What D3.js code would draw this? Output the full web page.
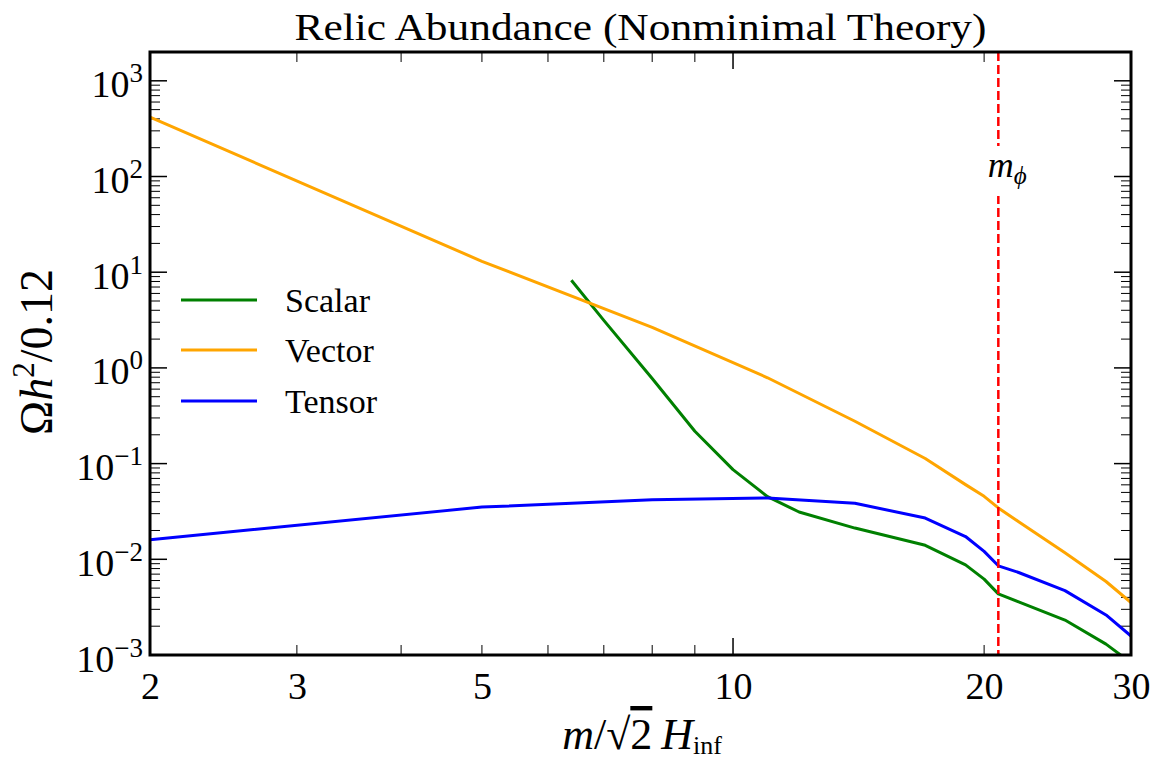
<!DOCTYPE html>
<html><head><meta charset="utf-8">
<script src="https://cdn.jsdelivr.net/npm/d3@7/dist/d3.min.js"></script>
<style>
body{margin:0;background:#fff}
svg{display:block}
text{font-family:"Liberation Serif","Times New Roman",serif;fill:#000}
</style>
</head><body>
<svg id="c" width="1164" height="760"></svg>
<script>
// ---- data ----
const massX   = [2, 5, 8, 11, 14, 17, 19, 20, 20.8, 22, 25, 28, 30];
const vector  = [417, 13.0, 2.65, 0.789, 0.277, 0.113, 0.0603, 0.0455, 0.0344, 0.0247, 0.0117, 0.00586, 0.00353];
const tensor  = [0.0160, 0.0351, 0.0420, 0.0438, 0.0385, 0.0270, 0.0173, 0.0121, 0.00855, 0.00728, 0.00471, 0.00262, 0.00158];
const scalarX = [6.4, 7, 8, 9, 10, 11, 12, 14, 17, 19, 20, 20.8, 22, 25, 28, 30];
const scalar  = [8.24, 3.14, 0.776, 0.218, 0.0865, 0.0451, 0.0312, 0.0212, 0.0140, 0.00875, 0.00621, 0.00435, 0.00359, 0.00232, 0.00130, 0.00083];
const mPhi = 20.8;
const xTickLabels = [2, 3, 5, 10, 20, 30];
const xMajorTicks = [10];
const xMinorTicks = [3, 4, 5, 6, 7, 8, 9, 20];
const yExponents = [-3, -2, -1, 0, 1, 2, 3];
const seriesNames = ["Scalar", "Vector", "Tensor"];
const seriesColors = ["#008000", "#FFA500", "#0000FF"];

// ---- layout ----
const svg = d3.select("#c");
const M = {l:150, r:1131, t:52, b:655};
const x = d3.scaleLog().domain([2, 30]).range([M.l, M.r]);
const y = d3.scaleLog().domain([1e-3, 2e3]).range([M.b, M.t]);

svg.append("defs").append("clipPath").attr("id","clip")
  .append("rect").attr("x",M.l).attr("y",M.t).attr("width",M.r-M.l).attr("height",M.b-M.t);

// ---- ticks (inward, all four sides) ----
const gT = svg.append("g");
const yMajor = yExponents.map(e => Math.pow(10, e));
const yMinor = [];
yExponents.forEach(e => { for (let k=2;k<=9;k++){ const v=k*Math.pow(10,e); if (v<=2e3) yMinor.push(v);} });
function hTicks(vals, len, w){
  vals.forEach(v=>{
    const yy = y(v);
    gT.append("line").attr("x1",M.l).attr("x2",M.l+len).attr("y1",yy).attr("y2",yy).attr("stroke","#000").attr("stroke-width",w);
    gT.append("line").attr("x1",M.r-len).attr("x2",M.r).attr("y1",yy).attr("y2",yy).attr("stroke","#000").attr("stroke-width",w);
  });
}
function vTicks(vals, len, w){
  vals.forEach(v=>{
    const xx = x(v);
    gT.append("line").attr("x1",xx).attr("x2",xx).attr("y1",M.b).attr("y2",M.b-len).attr("stroke","#000").attr("stroke-width",w);
    gT.append("line").attr("x1",xx).attr("x2",xx).attr("y1",M.t).attr("y2",M.t+len).attr("stroke","#000").attr("stroke-width",w);
  });
}
hTicks(yMinor, 10, 1);
hTicks(yMajor, 17, 1.5);
vTicks(xMinorTicks, 10, 1);
vTicks(xMajorTicks, 17, 1.5);

// ---- tick labels ----
const xAxis = d3.axisBottom(x).tickValues(xTickLabels).tickFormat(d3.format("d")).tickSize(0).tickPadding(17);
const gx = svg.append("g").attr("transform",`translate(0,${M.b})`).call(xAxis);
gx.select(".domain").remove();
gx.selectAll("text").attr("font-family","Liberation Serif").attr("font-size",38).attr("fill","#000");

const yAxis = d3.axisLeft(y).tickValues(yMajor).tickSize(0).tickPadding(7);
const gy = svg.append("g").attr("transform",`translate(${M.l},0)`).call(yAxis);
gy.select(".domain").remove();
gy.selectAll("text").each(function(d){
  const t = d3.select(this);
  t.text(null).attr("dy",null).attr("font-family","Liberation Serif").attr("font-size",38).attr("fill","#000")
   .attr("transform","translate(0,16)");
  const e = Math.round(Math.log10(d));
  t.append("tspan").text("10");
  t.append("tspan").attr("dy",-15).attr("font-size",27).text(e<0 ? "\u2212"+(-e) : String(e));
});

// ---- curves ----
const line = d3.line().x(d=>x(d[0])).y(d=>y(d[1]));
const gL = svg.append("g").attr("clip-path","url(#clip)");
const dataSets = [d3.zip(scalarX, scalar), d3.zip(massX, vector), d3.zip(massX, tensor)];
dataSets.forEach((ds,i)=>{
  gL.append("path").attr("d", line(ds)).attr("fill","none")
    .attr("stroke", seriesColors[i]).attr("stroke-width",3).attr("stroke-linejoin","round");
});

// ---- m_phi marker ----
gL.append("line").attr("x1",x(mPhi)).attr("x2",x(mPhi)).attr("y1",M.t).attr("y2",M.b)
  .attr("stroke","#FF0000").attr("stroke-width",2.5).attr("stroke-dasharray","9,4");
svg.append("rect").attr("x",x(mPhi)-22).attr("y",146).attr("width",58).attr("height",50).attr("fill","#fff");
const mt = svg.append("text").attr("x",x(mPhi)+9).attr("y",177).attr("text-anchor","middle").attr("font-size",36);
mt.append("tspan").attr("font-style","italic").text("m");
mt.append("tspan").attr("font-style","italic").attr("font-size",25).attr("dy",7).text("\u03D5");

// ---- legend ----
const gLeg = svg.append("g");
const legY = [300, 350, 401];
seriesNames.forEach((n,i)=>{
  gLeg.append("line").attr("x1",181).attr("x2",257).attr("y1",legY[i]).attr("y2",legY[i])
    .attr("stroke",seriesColors[i]).attr("stroke-width",3);
  gLeg.append("text").attr("x",285).attr("y",legY[i]+12).attr("font-size",34).text(n);
});

// ---- frame ----
svg.append("rect").attr("x",M.l).attr("y",M.t).attr("width",M.r-M.l).attr("height",M.b-M.t)
  .attr("fill","none").attr("stroke","#000").attr("stroke-width",3);

// ---- title & axis labels ----
svg.append("text").attr("x",(M.l+M.r)/2).attr("y",40).attr("text-anchor","middle")
  .attr("font-size",38).attr("textLength",692).attr("lengthAdjust","spacingAndGlyphs")
  .text("Relic Abundance (Nonminimal Theory)");

const xl = svg.append("text").attr("x",642).attr("y",749).attr("text-anchor","middle").attr("font-size",44);
xl.append("tspan").attr("font-style","italic").text("m");
xl.append("tspan").text("/\u221A");
xl.append("tspan").attr("text-decoration","overline").text("2");
xl.append("tspan").text("\u2009");
xl.append("tspan").attr("font-style","italic").text("H");
xl.append("tspan").attr("font-size",26).attr("dy",5).text("inf");

const yl = svg.append("text").attr("transform","translate(52,352) rotate(-90)").attr("text-anchor","middle").attr("font-size",46);
yl.append("tspan").text("\u03A9");
yl.append("tspan").attr("font-style","italic").text("h");
yl.append("tspan").attr("font-size",31).attr("dy",-18).text("2");
yl.append("tspan").attr("dy",18).text("/0.12");
</script>
</body></html>
